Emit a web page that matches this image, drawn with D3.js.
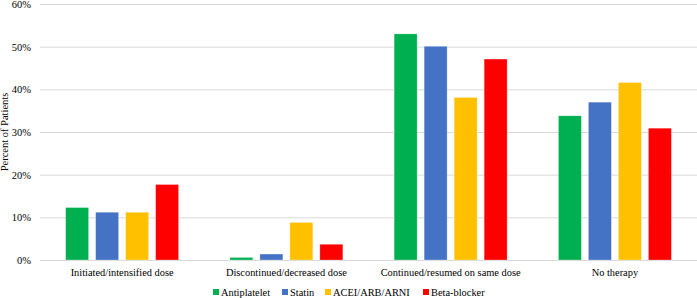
<!DOCTYPE html>
<html>
<head>
<meta charset="utf-8">
<script src="https://cdn.jsdelivr.net/npm/d3@7"></script>
<style>
  body { margin: 0; background: #fff; }
  svg text { font-family: "Liberation Serif", "Times New Roman", serif; fill: #000; }
</style>
</head>
<body>
<div id="plot"></div>
<script>
// data
var categories = ["Initiated/intensified dose", "Discontinued/decreased dose", "Continued/resumed on same dose", "No therapy"];
var seriesNames = ["Antiplatelet", "Statin", "ACEI/ARB/ARNI", "Beta-blocker"];
var seriesColors = ["#00b050", "#4472c4", "#ffc000", "#ff0000"];
var antiplatelet = [12.3, 0.6, 53.0, 33.8];
var statin = [11.2, 1.4, 50.1, 37.0];
var acei = [11.2, 8.8, 38.1, 41.6];
var betaBlocker = [17.7, 3.7, 47.1, 30.9];
var yTicks = [0, 10, 20, 30, 40, 50, 60];

var allSeries = [antiplatelet, statin, acei, betaBlocker];

var width = 697, height = 298;
const margin = {top: 4, right: 0, bottom: 38, left: 40};
var chartWidth = width - margin.left - margin.right;
var chartHeight = height - margin.top - margin.bottom;
var serif = "Liberation Serif";

var svg = d3.select("#plot")
     .append("svg")
     .attr("width", width)
     .attr("height", height);

var g = svg.append("g")
     .attr("transform", "translate(" + margin.left + "," + margin.top + ")");

var x0 = d3.scaleBand()
     .domain(categories)
     .range([0, chartWidth]);

var x1 = d3.scaleBand()
     .domain(seriesNames)
     .range([x0.bandwidth() * 0.156, x0.bandwidth() * 0.844])
     .paddingInner(0.233);

var y = d3.scaleLinear()
     .domain([0, 60])
     .range([chartHeight, 0]);

// gridlines
g.selectAll(".grid")
     .data(yTicks)
     .enter()
     .append("line")
     .attr("x1", 0)
     .attr("x2", chartWidth)
     .attr("y1", function(d) { return y(d) + 0.5; })
     .attr("y2", function(d) { return y(d) + 0.5; })
     .attr("stroke", "#d9d9d9")
     .attr("stroke-width", 1);

// y axis labels
var yAxis = g.append("g")
     .call(d3.axisLeft(y).tickValues(yTicks).tickSize(0).tickPadding(9)
          .tickFormat(function(d) { return d + "%"; }))
     .attr("font-family", serif)
     .attr("font-size", 10.5);
yAxis.select(".domain").remove();

// x axis labels
var xAxis = g.append("g")
     .attr("transform", "translate(0," + chartHeight + ")")
     .call(d3.axisBottom(x0).tickSize(0).tickPadding(9))
     .attr("font-family", serif)
     .attr("font-size", 10.4);
xAxis.select(".domain").remove();

// bars
var groups = g.selectAll(".grp")
     .data(categories)
     .enter()
     .append("g")
     .attr("transform", function(d) { return "translate(" + x0(d) + ",0)"; });

groups.selectAll("rect")
     .data(function(c, i) {
          return seriesNames.map(function(s, j) { return {name: s, value: allSeries[j][i], color: seriesColors[j]}; });
     })
     .enter()
     .append("rect")
     .attr("x", function(d) { return x1(d.name); })
     .attr("y", function(d) { return y(d.value); })
     .attr("width", x1.bandwidth())
     .attr("height", function(d) { return y(0) - y(d.value); })
     .attr("fill", function(d) { return d.color; })
     .attr("stroke", "#fff")
     .attr("stroke-opacity", 0.5)
     .attr("stroke-width", 0.6);

// y title
svg.append("text")
     .attr("transform", "translate(8," + (margin.top + chartHeight / 2) + ") rotate(-90)")
     .attr("text-anchor", "middle")
     .attr("font-family", serif)
     .attr("font-size", 10.5)
     .text("Percent of Patients");

// legend
var legendX = [213, 282, 325, 423];
var legend = svg.selectAll(".leg")
     .data(seriesNames)
     .enter()
     .append("g")
     .attr("transform", function(d, i) { return "translate(" + legendX[i] + ",289)"; });

legend.append("rect")
     .attr("width", 6)
     .attr("height", 6)
     .attr("fill", function(d, i) { return seriesColors[i]; });

legend.append("text")
     .attr("x", 8)
     .attr("y", 6.5)
     .attr("font-family", serif)
     .attr("font-size", 10.4)
     .text(function(d) { return d; });
</script>
</body>
</html>
